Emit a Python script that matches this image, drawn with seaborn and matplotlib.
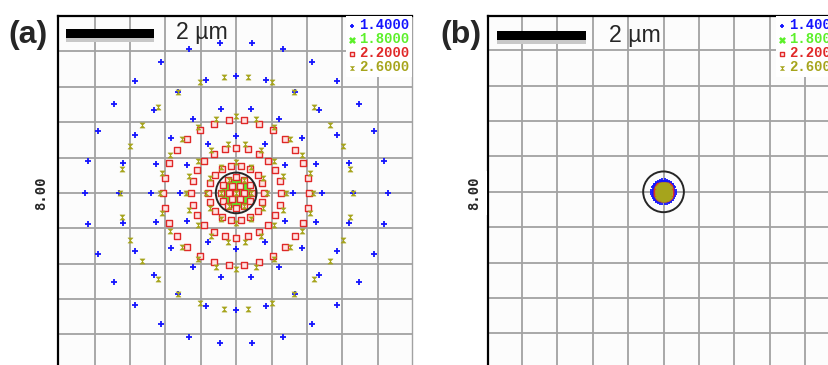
import numpy as np
import pandas as pd
import matplotlib
matplotlib.use('Agg')
import matplotlib.pyplot as plt
from matplotlib.path import Path
from matplotlib.patches import Circle, Rectangle
import seaborn as sns

sns.set_style('white')
plt.rcParams['font.family'] = ['Liberation Sans', 'DejaVu Sans']

# legend entries (wavelength, um) and their colours
wavelengths = ['1.4000', '1.8000', '2.2000', '2.6000']
colors = ['#1414ff', '#5cf02a', '#e02828', '#a6a41c']

# hexapolar ray pattern: centre ray + 5 rings
rays_per_ring = [1, 6, 12, 18, 24, 30]

blue_a = [0, 0.64, 1.28, 1.93, 2.64, 3.42]
green_a = [0, 0.05, 0.10, 0.15, 0.20, 0.25]
red_a = [0, 0.17, 0.35, 0.63, 1.02, 1.65]
olive_a = [0, 0.34, 0.69, 1.13, 1.73, 2.63]

# panel (b)
blue_b = [0, 0.04, 0.09, 0.14, 0.19, 0.24]
green_b = [0, 0.02, 0.04, 0.06, 0.08, 0.10]
red_b = [0, 0.03, 0.06, 0.09, 0.12, 0.14]
olive_b = [0, 0.03, 0.06, 0.09, 0.12, 0.155]

airy_radius = 0.46
field_label = '8.00'
scale_len = 2.0


def spots(radii):
    rows = []
    for r, n in zip(radii, rays_per_ring):
        for k in range(n):
            t = 2 * np.pi * k / n
            rows.append((r * np.cos(t), r * np.sin(t)))
    return pd.DataFrame(rows, columns=['x', 'y'])


hourglass = Path([(-1, 1), (1, 1), (-1, -1), (1, -1), (-1, 1)],
                 [Path.MOVETO, Path.LINETO, Path.LINETO, Path.LINETO, Path.CLOSEPOLY])


def draw_panel(ax, series, xlim, ylim, bar_x, bar_y, text_x, text_y):
    ax.set_facecolor('#fcfcfc')
    b, g, r, o = series
    sns.scatterplot(data=spots(b), x='x', y='y', ax=ax, marker='+', s=16,
                    color=colors[0], linewidth=1.3, label=wavelengths[0])
    sns.scatterplot(data=spots(g), x='x', y='y', ax=ax, marker='x', s=22,
                    color=colors[1], linewidth=1.8, label=wavelengths[1])
    sns.scatterplot(data=spots(r), x='x', y='y', ax=ax, marker='s', s=15,
                    color=colors[2], facecolor='#ffe4e4', edgecolor=colors[2],
                    linewidth=1.0, label=wavelengths[2])
    sns.scatterplot(data=spots(o), x='x', y='y', ax=ax, marker=hourglass, s=14,
                    color=colors[3], edgecolor=colors[3], linewidth=0.3,
                    label=wavelengths[3])
    ax.add_patch(Circle((0, 0), airy_radius, fill=False, ec='#262626', lw=1.4, zorder=5))

    ax.set_xlim(*xlim)
    ax.set_ylim(*ylim)
    grid = np.arange(-4, 5) * 0.8
    ax.set_xticks(grid)
    ax.set_yticks(grid)
    ax.grid(True, color='#a2a2a2', lw=1.3)
    ax.set_axisbelow(True)
    ax.tick_params(length=0, labelbottom=False, labelleft=False)
    ax.set_xlabel('')
    ax.set_ylabel('')
    for side in ['left', 'top']:
        ax.spines[side].set_color('black')
        ax.spines[side].set_linewidth(1.6)
    ax.spines['right'].set_color('#a2a2a2')
    ax.spines['right'].set_linewidth(1.0)
    ax.spines['bottom'].set_visible(False)

    # scale bar
    ax.add_patch(Rectangle((bar_x, bar_y - 0.1), scale_len, 0.1, color='#c8c8c8', lw=0, zorder=6))
    ax.add_patch(Rectangle((bar_x, bar_y), scale_len, 0.2, color='black', lw=0, zorder=6))
    ax.text(text_x, text_y, '2 µm', fontsize=16.7, ha='left', va='center', zorder=7)

    leg = ax.legend(loc='upper right', borderaxespad=0, frameon=True, fancybox=False,
                    framealpha=1, facecolor='white', edgecolor='white',
                    prop={'family': 'Liberation Mono', 'weight': 'bold', 'size': 10},
                    handlelength=0.4, handletextpad=0.35, labelspacing=0.0,
                    borderpad=0.2, markerscale=0.8)
    leg.get_frame().set_linewidth(0)
    for t, c in zip(leg.get_texts(), colors):
        t.set_color(c)


fig = plt.figure(figsize=(8.29, 3.65), dpi=100)
fig.patch.set_facecolor('white')
ax_a = fig.add_axes([58.3 / 829, -4.7 / 365, 354 / 829, 354 / 365])
ax_b = fig.add_axes([488.3 / 829, -4.7 / 365, 354 / 829, 354 / 365])

draw_panel(ax_a, [blue_a, green_a, red_a, olive_a], (-4.02, 3.98), (-4.0, 4.01),
           -3.85, 3.51, -1.36, 3.62)
draw_panel(ax_b, [blue_b, green_b, red_b, olive_b], (-3.96, 4.04), (-4.02, 3.98),
           -3.76, 3.44, -1.23, 3.54)

for x, lab in [(8, '(a)'), (440.7, '(b)')]:
    fig.text(x / 829, 1 - 35 / 365, lab, fontsize=23, fontweight='bold',
             ha='left', va='center')
for x in [41, 474]:
    fig.text(x / 829, 1 - 193 / 365, field_label, rotation=90, ha='center', va='center',
             family='DejaVu Sans Mono', fontweight='bold', fontsize=10,
             bbox=dict(fc='white', ec='none', pad=4))

fig.savefig('out.png', dpi=100)
